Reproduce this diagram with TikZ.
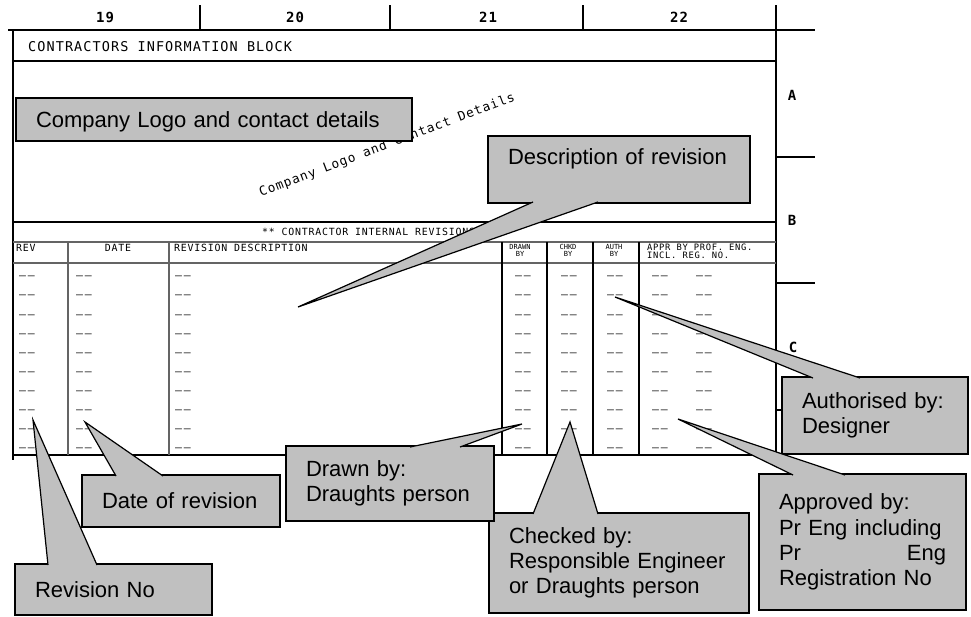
\documentclass[tikz,border=0pt]{standalone}
\usepackage{fontspec}
\setmainfont{Liberation Sans}
\newfontfamily\cadfont[LetterSpace=8]{DejaVu Sans Mono}
\newfontfamily\cadnarrow{DejaVu Sans Mono}
\usetikzlibrary{calc}
\definecolor{calloutgrey}{RGB}{192,192,192}
\definecolor{rulegrey}{RGB}{100,100,100}

\begin{document}
\begin{tikzpicture}[
        x=1pt, y=-1pt,
        frame/.style={line width=1.6pt},
        rule/.style={draw=rulegrey, line width=1.1pt},
        cad/.style={inner sep=0pt, font=\cadfont\fontsize{9.9}{9.9}\selectfont},
        cadbig/.style={inner sep=0pt, font=\cadfont\fontsize{13.5}{13.5}\selectfont},
        cadlogo/.style={inner sep=0pt, font=\cadfont\fontsize{12.7}{12.7}\selectfont},
        hdr/.style={inner sep=0pt, align=center, font=\cadnarrow\fontsize{7}{7.6}\selectfont},
        appr/.style={inner sep=0pt, align=left, font=\cadfont\fontsize{8.8}{8.6}\selectfont},
        zone/.style={inner sep=0pt, font=\cadfont\bfseries\fontsize{14}{14}\selectfont},
        cell/.style={inner sep=0pt, text=black!85, font=\cadfont\fontsize{11.5}{11.5}\selectfont},
        callout/.style={draw, line width=1.2pt, fill=calloutgrey, anchor=north west, outer sep=0pt,
            inner xsep=20pt, inner ysep=0pt, align=left, font=\fontsize{22}{25.3}\selectfont},
        pointer/.style={draw, line width=1.2pt, fill=calloutgrey}
    ]
        \useasboundingbox (0,0) rectangle (971,616);

        % Sheet frame and zones
        \draw[frame] (8,30) -- (815,30);
        \draw[frame] (13,30) -- (13,460);
        \draw[frame] (776,5) -- (776,455);
        \foreach \x in {200,390,583} \draw[frame] (\x,5) -- (\x,30);
        \foreach \y in {157,283,410} \draw[frame] (776,\y) -- (815,\y);
        \node[zone] (z19) at (105,17) {19};
        \node[zone] (z20) at (295,17) {20};
        \node[zone] (z21) at (488,17) {21};
        \node[zone] (z22) at (679,17) {22};
        \node[zone] (za) at (792,95) {A};
        \node[zone] (zb) at (792,220) {B};
        \node[zone] (zc) at (793,347) {C};

        % Information block
        \draw[frame] (13,61) -- (776,61);
        \node[cadbig, anchor=west] (infotitle) at (28,47) {CONTRACTORS INFORMATION BLOCK};
        \node[cadlogo, anchor=base west, rotate=20.8] (logotext) at (261,197) {Company Logo and Contact Details};

        % Revision table
        \draw[frame] (13,222) -- (776,222);
        \draw[frame] (13,455) -- (776,455);
        \draw[rule] (13,242) -- (776,242);
        \draw[rule] (13,263) -- (776,263);
        \foreach \x in {68,169} \draw[rule] (\x,242) -- (\x,455);
        \foreach \x in {502,547,593,639} \draw[frame] (\x,242) -- (\x,455);
        \node[cad, anchor=west] (revtitle) at (262,232) {** CONTRACTOR INTERNAL REVISIONS **};
        \node[cad, anchor=west] (hrev) at (16,248) {REV};
        \node[cad] (hdate) at (118,248) {DATE};
        \node[cad, anchor=west] (hdesc) at (174,248) {REVISION DESCRIPTION};
        \node[hdr, anchor=north] (hdrawn) at (520,244) {DRAWN\\BY};
        \node[hdr, anchor=north] (hchkd) at (568,244) {CHKD\\BY};
        \node[hdr, anchor=north] (hauth) at (614,244) {AUTH\\BY};
        \node[appr, anchor=north west] (happr) at (647,243.5) {APPR BY PROF. ENG.\\INCL. REG. NO.};
        \foreach \cx [count=\k] in {27,84,183,523,569,615,660,704}
            \foreach \r in {0,...,9}
                \node[cell] (cell-\k-\r) at (\cx,{278+19.11*\r}) {–\,–};

        % Callouts
        \node[callout, text width=356pt, minimum height=43pt, text depth=0pt] (logo) at (16,98) {Company Logo and contact details};

        \node[callout, text width=222pt, minimum height=67pt] (desc) at (488,136) {Description of revision\\~};
        \coordinate (desc-tip) at (298,307);
        \filldraw[pointer] ($(desc.south west)+(45,-1)$) -- (desc-tip) -- ($(desc.south west)+(110,-1)$);

        \node[callout, text width=146pt, minimum height=77pt] (auth) at (782,377) {Authorised by:\\Designer};
        \coordinate (auth-tip) at (615,297);
        \filldraw[pointer] ($(auth.north west)+(31,1)$) -- (auth-tip) -- ($(auth.north west)+(78,1)$);

        \node[callout, text width=167pt, minimum height=136pt] (appr) at (759,474) {Approved by:\\Pr Eng including\\Pr\hfill Eng\\Registration No};
        \coordinate (appr-tip) at (678,419);
        \filldraw[pointer] ($(appr.north west)+(34,1)$) -- (appr-tip) -- ($(appr.north west)+(86,1)$);

        \node[callout, text width=220pt, minimum height=100pt] (chk) at (489,513) {Checked by:\\Responsible Engineer\\or Draughts person};
        \coordinate (chk-tip) at (570,422);
        \filldraw[pointer] ($(chk.north west)+(44,1)$) -- (chk-tip) -- ($(chk.north west)+(109,1)$);

        \node[callout, text width=168pt, minimum height=75pt] (drawn) at (286,446) {Drawn by:\\Draughts person};
        \coordinate (drawn-tip) at (522,424);
        \filldraw[pointer] ($(drawn.north west)+(124,1)$) -- (drawn-tip) -- ($(drawn.north west)+(174,1)$);

        \node[callout, text width=158pt, minimum height=52pt] (date) at (82,475) {Date of revision};
        \coordinate (date-tip) at (85,422);
        \filldraw[pointer] ($(date.north west)+(34,1)$) -- (date-tip) -- ($(date.north west)+(81,1)$);

        \node[callout, text width=157pt, minimum height=51pt] (revno) at (15,564) {Revision No};
        \coordinate (revno-tip) at (33,420);
        \filldraw[pointer] ($(revno.north west)+(33,1)$) -- (revno-tip) -- ($(revno.north west)+(82,1)$);

    \end{tikzpicture}
\end{document}
